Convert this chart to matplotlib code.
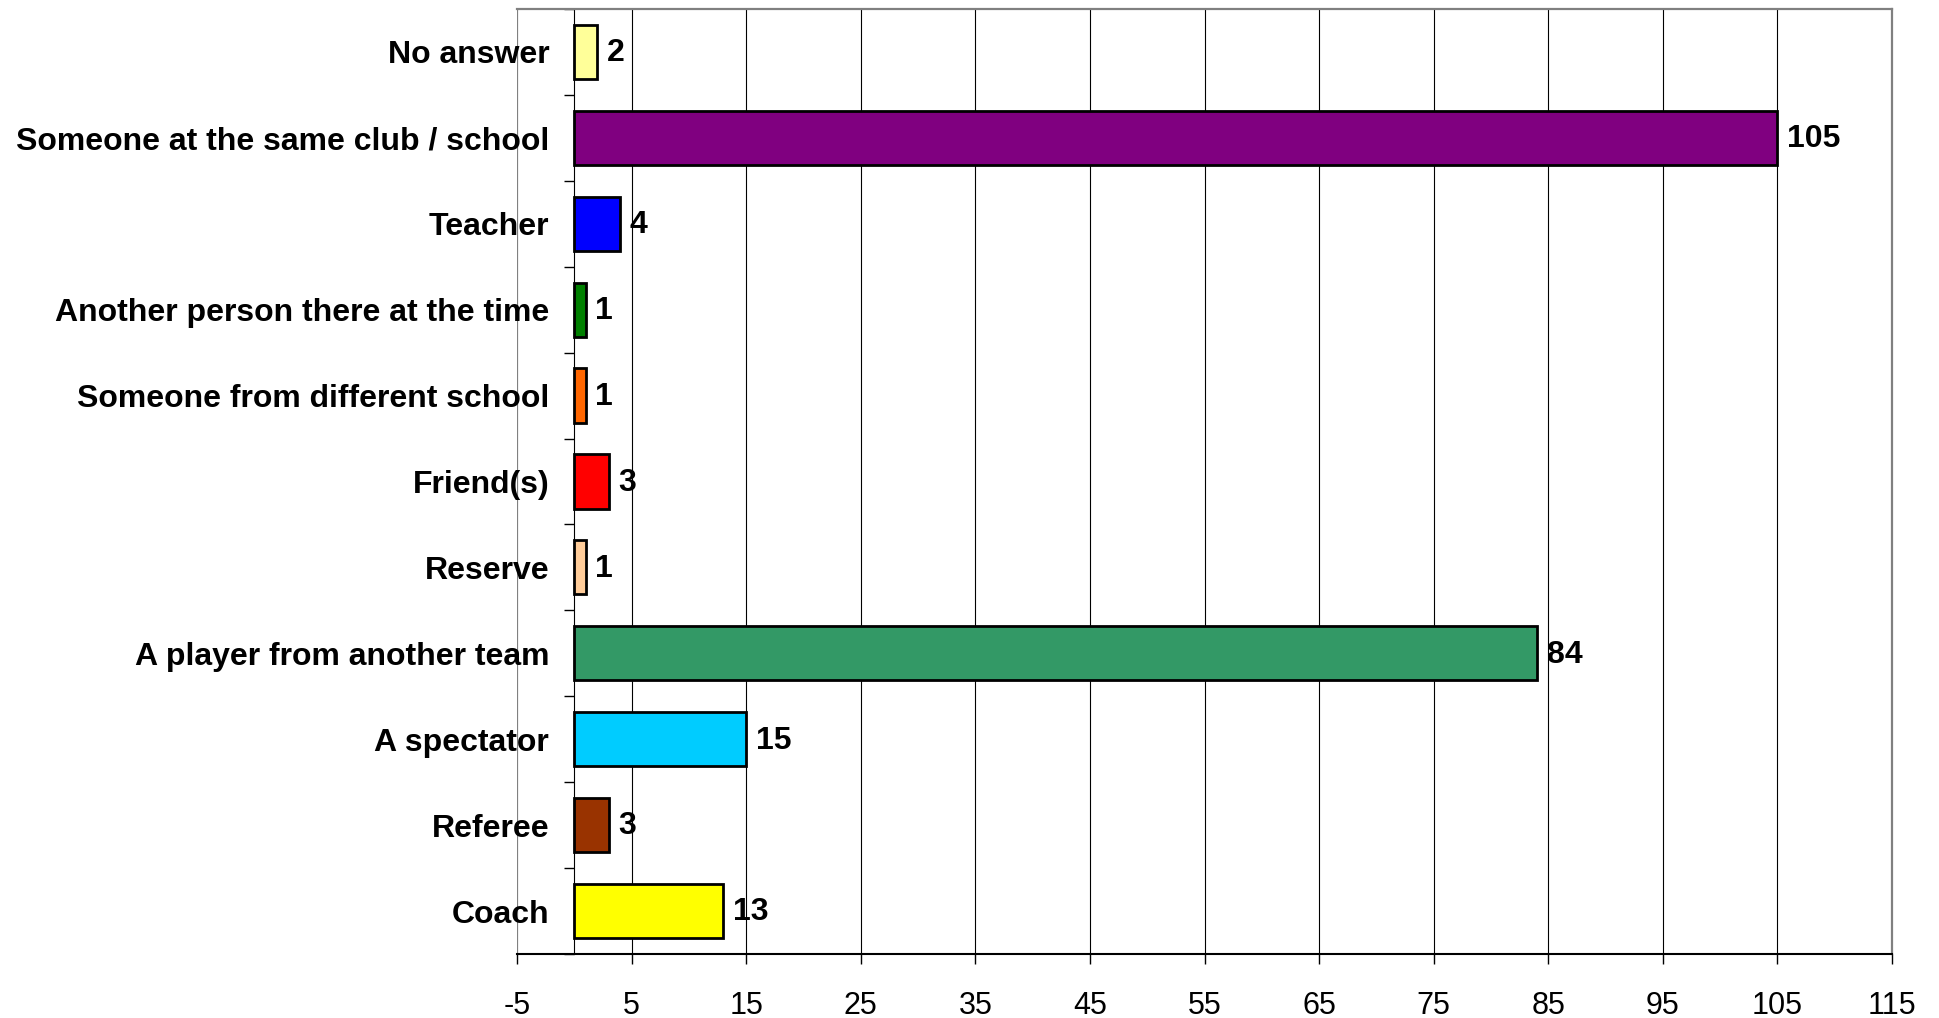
import numpy as np
import matplotlib.pyplot as plt
from matplotlib.ticker import FixedLocator

plt.rcParams['font.family'] = ['Liberation Sans', 'DejaVu Sans']

categories = ["No answer", "Someone at the same club / school", "Teacher",
              "Another person there at the time", "Someone from different school",
              "Friend(s)", "Reserve", "A player from another team", "A spectator",
              "Referee", "Coach"]
values = [2, 105, 4, 1, 1, 3, 1, 84, 15, 3, 13]
colors = ["#FFFF99", "#800080", "#0000FF", "#008000", "#FF6600", "#FF0000",
          "#FFCC99", "#339966", "#00CCFF", "#993300", "#FFFF00"]
xticks = np.arange(-5, 116, 10)

fig = plt.figure(figsize=(19.39, 10.18), dpi=100)
ax = fig.add_axes([0.2666, 0.0629, 0.9758 - 0.2666, 0.9912 - 0.0629])

# y axis sits at x=0, box edges are grey
ax.spines["left"].set_position(("data", 0))
ax.spines["left"].set_color("black")
ax.spines["left"].set_linewidth(0.8)
ax.spines["bottom"].set_color("black")
ax.spines["bottom"].set_linewidth(1.5)
ax.spines["top"].set_color("#808080")
ax.spines["top"].set_linewidth(1.6)
ax.spines["right"].set_color("#808080")
ax.spines["right"].set_linewidth(1.6)

n = len(categories)
ypos = np.arange(n)[::-1]
ax.barh(ypos, values, height=0.63, color=colors, edgecolor="black",
        linewidth=2, zorder=3)

for y, v in zip(ypos, values):
    ax.annotate(str(v), (v, y), xytext=(7, -1), textcoords="offset points",
                ha="left", va="center", fontsize=23, fontweight="bold", zorder=4)

ax.set_xlim(-5, 115)
ax.set_ylim(-0.5, n - 0.5)
ax.set_xticks(xticks)
ax.set_xticklabels([str(t) for t in xticks])
for t in xticks[1:-1]:
    ax.axvline(t, color="black", linewidth=0.8, zorder=1)
ax.axvline(-5, color="#808080", linewidth=1.6, zorder=1)

ax.set_yticks(ypos)
ax.set_yticklabels(categories)
ax.yaxis.set_minor_locator(FixedLocator(np.arange(-0.5, n, 1.0)))
ax.tick_params(axis="y", which="major", length=0, pad=18, labelsize=23)
ax.tick_params(axis="y", which="minor", direction="out", length=7, width=1)
ax.tick_params(axis="x", direction="out", length=7, width=1, pad=20, labelsize=22)
plt.setp(ax.get_yticklabels(), fontweight="bold")

fig.savefig("out.png", dpi=100)
